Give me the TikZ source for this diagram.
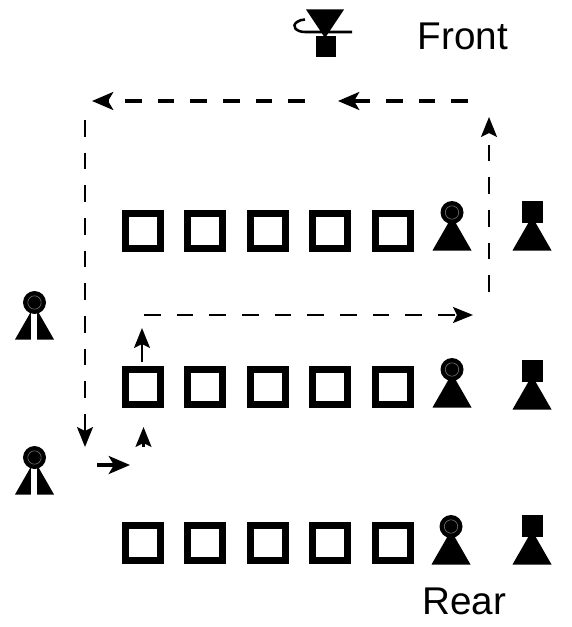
\documentclass[tikz,border=0pt]{standalone}
\usepackage{fontspec}
\setmainfont{Liberation Sans}
\usetikzlibrary{arrows.meta}
\tikzset{
  x=0.75pt,y=-0.75pt,
  seat/.style={draw=black,line width=5.3pt,fill=white,minimum size=26.5pt,inner sep=0pt,outer sep=0pt},
  label/.style={inner sep=0pt,anchor=base west,font=\fontsize{29pt}{30pt}\selectfont},
  tipbig/.style={-{Stealth[length=16pt,width=13.5pt,inset=4pt]}},
  tipmid/.style={-{Stealth[length=15pt,width=12pt,inset=3pt]}},
  heavy/.style={tipbig,line width=2.4pt},
  thin route/.style={tipmid,line width=1.6pt},
  dashstyle/.style={dash pattern=on 12.5pt off 12pt},
  pics/circlepawn/.style={code={
    \fill[black] (0,-34) -- (19.5,0) -- (-19.5,0) -- cycle;
    \fill[black] (0,-38) circle[radius=11.5];
    \draw[gray,line width=.4pt] (0,-38) circle[radius=6.7];
  }},
  pics/squarepawn/.style={code={
    \fill[black] (-10.5,-49.5) rectangle (10.5,-28);
    \fill[black] (0,-34) -- (19.5,0) -- (-19.5,0) -- cycle;
  }},
  pics/splitpawn/.style={code={
    \fill[black] (0,-34) -- (19.5,0) -- (-19.5,0) -- cycle;
    \fill[white] (-3.5,-27) rectangle (2,0.5);
    \fill[black] (0,-37) circle[radius=11.5];
    \draw[gray,line width=.4pt] (0,-37) circle[radius=6.7];
  }}
}
\begin{document}
\begin{tikzpicture}
\useasboundingbox (0,0) rectangle (571,627);
% row seats
\foreach \r/\yy in {a/231,b/387,c/543}{
  \foreach \i/\xx in {1/143,2/205,3/268,4/330,5/393}{
    \node[seat] (s\r\i) at (\xx,\yy) {};
  }
}
% pawns
\pic at (452,250.5) {circlepawn};
\pic at (532,250.5) {squarepawn};
\pic at (452,407.5) {circlepawn};
\pic at (532,409.5) {squarepawn};
\pic at (451,564.5) {circlepawn};
\pic at (532,564.5) {squarepawn};
\pic at (34.5,339.5) {splitpawn};
\pic at (34.5,494.5) {splitpawn};
% front figure
\fill[black] (306,9.5) -- (344,9.5) -- (325,38) -- cycle;
\fill[black] (316,36) rectangle (336,57);
\draw[line width=1.9pt] (352,32) -- (305,32) .. controls (296,32) and (291,26) .. (297,22) .. controls (299,20.5) and (302,19.5) .. (305,19.5);
% text
\node[label] (front) at (417.5,49.5) {Front};
\node[label] (rear) at (422,614.5) {Rear};
% route coordinates
\coordinate (r1s) at (468,101);
\coordinate (r1e) at (338,101);
\coordinate (r2s) at (305,101);
\coordinate (r2e) at (92,101);
\coordinate (r3s) at (85,120);
\coordinate (r3e) at (85,447);
\coordinate (r4s) at (489,292);
\coordinate (r4e) at (489,117);
\coordinate (r5s) at (144,315);
\coordinate (r5e) at (473,315);
\coordinate (r6s) at (97,465);
\coordinate (r6e) at (130,465);
\coordinate (r7s) at (143.5,447);
\coordinate (r7e) at (143.5,427);
\coordinate (r8s) at (142,362);
\coordinate (r8e) at (142,328);
\draw[heavy,dashstyle] (r1s) -- (r1e);
\draw[heavy,dashstyle] (r2s) -- (r2e);
\draw[thin route,dashstyle] (r3s) -- (r3e);
\draw[thin route,dashstyle] (r4s) -- (r4e);
\draw[thin route,dashstyle] (r5s) -- (r5e);
\draw[heavy] (r6s) -- (r6e);
\draw[thin route] (r7s) -- (r7e);
\draw[thin route] (r8s) -- (r8e);
\end{tikzpicture}
\end{document}
